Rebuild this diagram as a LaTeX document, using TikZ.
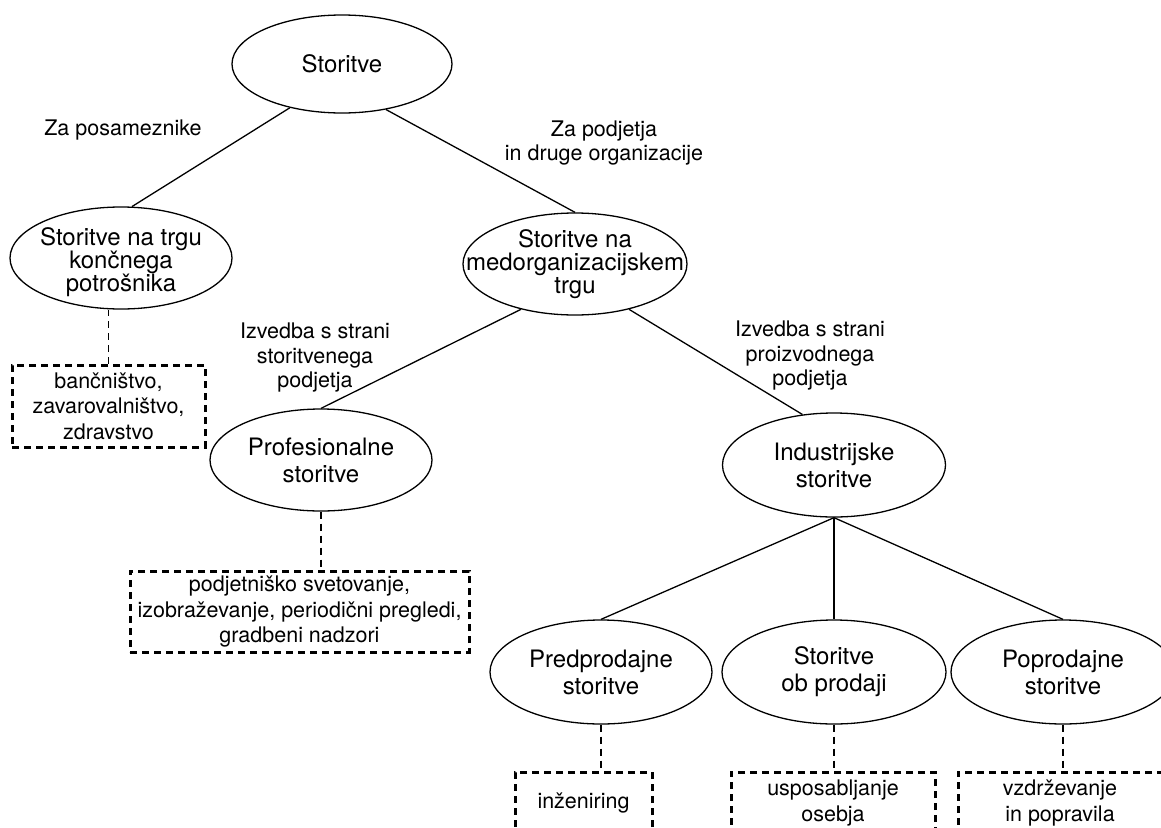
\documentclass[tikz,border=0pt]{standalone}
\usepackage{fontspec}
\setmainfont{TeX Gyre Heros}
\usetikzlibrary{shapes.geometric}
\begin{document}
\begin{tikzpicture}[x=1pt,y=-1pt,
  ell/.style={draw, ellipse, line width=1.3pt, minimum width=222pt, minimum height=102pt, inner sep=0pt},
  etext/.style={align=center, inner sep=0pt, font=\fontsize{24}{23}\selectfont},
  etwo/.style={align=center, inner sep=0pt, font=\fontsize{24}{27}\selectfont},
  lbl/.style={align=center, inner sep=0pt, font=\fontsize{21.5}{24.5}\selectfont},
  dbox/.style={draw, dash pattern=on 7pt off 5pt, line width=3pt, inner sep=0pt, align=center,
               font=\fontsize{21.5}{25.5}\selectfont},
  con/.style={line width=1.3pt},
  dcon/.style={line width=1.2pt, dash pattern=on 7pt off 5pt}]
\useasboundingbox (0,0) rectangle (1161,827);
\clip (0,0) rectangle (1161,827);
\fill[white] (0,0) rectangle (1161,827);

% ellipses of the tree
\node[ell, minimum width=220pt, minimum height=98pt] (stor) at (342,64) {};
\node[ell] (trg)  at (121,258) {};
\node[ell, minimum width=224pt] (med) at (575,264) {};
\node[ell] (prof) at (321,460) {};
\node[ell, minimum width=223pt, minimum height=104pt] (ind)  at (834,465) {};
\node[ell, minimum height=104pt] (pred) at (601,672) {};
\node[ell, minimum width=224pt, minimum height=104pt] (ob)   at (834,672) {};
\node[ell, minimum width=224pt, minimum height=104pt] (pop)  at (1063,672) {};

% texts inside the ellipses
\node[etext] (stor-t) at (stor) {Storitve};
\node[etext] (trg-t)  at ([yshift=-4pt]trg.center) {Storitve na trgu\\kon\v{c}nega\\potro\v{s}nika};
\node[etext] (med-t)  at (med)  {Storitve na\\medorganizacijskem\\trgu};
\node[etwo]  (prof-t) at (prof) {Profesionalne\\storitve};
\node[etwo]  (ind-t)  at (ind)  {Industrijske\\storitve};
\node[etwo]  (pred-t) at (pred) {Predprodajne\\storitve};
\node[etwo]  (ob-t)   at (ob)   {Storitve\\ob prodaji};
\node[etwo]  (pop-t)  at (pop)  {Poprodajne\\storitve};

% dashed example boxes
\node[dbox, minimum width=193pt, minimum height=82pt] (b1) at (108.5,406)
  {ban\v{c}ni\v{s}tvo,\\zavarovalni\v{s}tvo,\\zdravstvo};
\node[dbox, minimum width=339pt, minimum height=81pt] (b2) at (299.5,611.5)
  {podjetni\v{s}ko svetovanje,\\izobra\v{z}evanje, periodi\v{c}ni pregledi,\\gradbeni nadzori};
\node[dbox, minimum width=137pt, minimum height=62pt] (b3) at (583.5,803) {in\v{z}eniring};
\node[dbox, minimum width=204pt, minimum height=62pt] (b4) at (833,803) {usposabljanje\\osebja};
\node[dbox, minimum width=204pt, minimum height=62pt] (b5) at (1060,803) {vzdr\v{z}evanje\\in popravila};

% branch labels
\node[lbl] (l1) at (123,130) {Za posameznike};
\node[lbl] (l2) at (604,143) {Za podjetja\\in druge organizacije};
\node[lbl] (l3) at (315,358) {Izvedba s strani\\storitvenega\\podjetja};
\node[lbl] (l4) at (810,356) {Izvedba s strani\\proizvodnega\\podjetja};

% solid branches
\draw[con] (stor.220) -- (trg.78);
\draw[con] (stor.314) -- (med.north);
\draw[con] (med.220) -- (prof.north);
\draw[con] (med.320) -- (ind.122);
\draw[con] (ind.south) -- (pred.north);
\draw[con] (ind.south) -- (ob.north);
\draw[con] (ind.south) -- (pop.north);

% dashed links to the examples
\draw[dcon] (b1.north) -- (b1.north |- trg.south);
\draw[dcon] (prof.south) -- (prof.south |- b2.north);
\draw[dcon] (pred.south) -- (pred.south |- b3.north);
\draw[dcon] (ob.south) -- (ob.south |- b4.north);
\draw[dcon] (pop.south) -- (pop.south |- b5.north);
\end{tikzpicture}
\end{document}
